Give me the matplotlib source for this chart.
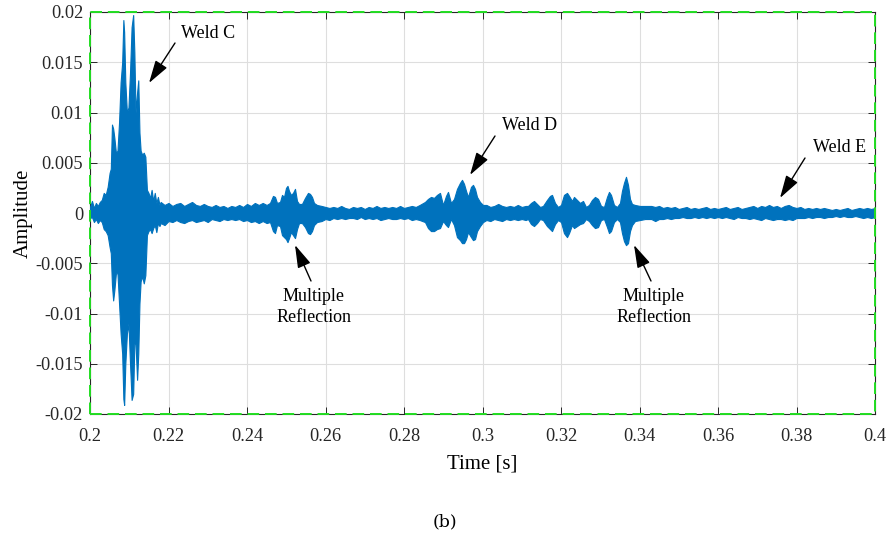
import numpy as np
import matplotlib
matplotlib.use("Agg")
import matplotlib.pyplot as plt
from matplotlib.patches import Rectangle

# ---------------- data ----------------
# time [s] and the upper / lower envelope of the recorded signal (x 1e-3)
time_s = [
    0.2000, 0.2005, 0.2010, 0.2015, 0.2020, 0.2025, 0.2030, 0.2035, 0.2040, 0.2045,
    0.2050, 0.2053, 0.2056, 0.2059, 0.2062, 0.2066, 0.2070, 0.2074, 0.2078, 0.2082,
    0.2085, 0.2087, 0.2090, 0.2094, 0.2098, 0.2102, 0.2106, 0.2110, 0.2113, 0.2116,
    0.2120, 0.2123, 0.2126, 0.2129, 0.2133, 0.2137, 0.2141, 0.2145, 0.2149, 0.2153,
    0.2157, 0.2161, 0.2165, 0.2169, 0.2173, 0.2177,
    0.218, 0.219, 0.220, 0.221, 0.222, 0.223, 0.224, 0.225, 0.226, 0.227,
    0.228, 0.229, 0.230, 0.231, 0.232, 0.233, 0.234, 0.235, 0.236, 0.237,
    0.238, 0.239, 0.240, 0.241, 0.242, 0.243, 0.244, 0.245,
    0.24586, 0.24662, 0.24713, 0.24764, 0.24841, 0.24892, 0.24943, 0.24994, 0.25032, 0.25070,
    0.25121, 0.25172, 0.25223, 0.25274, 0.25325, 0.25401, 0.25478, 0.25554, 0.25605, 0.25656,
    0.25707, 0.25783,
    0.259, 0.260, 0.261, 0.262, 0.263, 0.264, 0.265, 0.266, 0.267, 0.268,
    0.269, 0.270, 0.271, 0.272, 0.273, 0.274, 0.275, 0.276, 0.277, 0.278,
    0.279, 0.280, 0.281, 0.282, 0.283, 0.284,
    0.28535, 0.28611, 0.28688, 0.28764, 0.28840, 0.28917, 0.28994, 0.29070, 0.29121, 0.29197,
    0.29274, 0.29350, 0.29427, 0.29478, 0.29529, 0.29580, 0.29631, 0.29707, 0.29758, 0.29809,
    0.29860, 0.29936, 0.30013,
    0.301, 0.302, 0.303, 0.304, 0.305, 0.306, 0.307, 0.308, 0.309, 0.310, 0.311,
    0.31159, 0.31236, 0.31312, 0.31389, 0.31465, 0.31541, 0.31643, 0.31720, 0.31771, 0.31847,
    0.31924, 0.32000, 0.32076, 0.32153, 0.32204, 0.32280, 0.32331, 0.32408, 0.32484, 0.32561,
    0.32637, 0.32713, 0.32790, 0.32866, 0.32943, 0.33019, 0.33096, 0.33172, 0.33223, 0.33274,
    0.33350, 0.33427, 0.33503, 0.33554, 0.33605, 0.33656, 0.33707, 0.33758, 0.33809, 0.33885,
    0.34013, 0.34140,
    0.343, 0.344, 0.345, 0.346, 0.347, 0.348, 0.349, 0.350, 0.351, 0.352,
    0.353, 0.354, 0.355, 0.356, 0.357, 0.358, 0.359, 0.360, 0.361, 0.362,
    0.363, 0.364, 0.365, 0.366, 0.367, 0.368, 0.369, 0.370, 0.371, 0.372,
    0.373, 0.374, 0.375, 0.376, 0.377, 0.378, 0.379, 0.380, 0.381, 0.382,
    0.383, 0.384, 0.385, 0.386, 0.387, 0.388, 0.389, 0.390, 0.391, 0.392,
    0.393, 0.394, 0.395, 0.396, 0.397, 0.398, 0.399, 0.400,
]
env_upper = [
    0.6, 1.2, 0.5, 1.0, 0.7, 1.1, 1.3, 2.0, 1.8, 2.6,
    4.0, 4.4, 8.8, 8.4, 7.5, 6.0, 6.2, 9.0, 13.0, 15.0,
    19.2, 18.0, 13.0, 10.0, 10.5, 14.0, 18.5, 19.7, 16.0, 10.0,
    12.0, 13.2, 8.0, 6.2, 5.8, 6.0, 5.6, 2.3, 2.0, 1.5,
    2.3, 1.2, 2.0, 1.0, 1.6, 0.8,
    1.1, 0.8, 1.0, 0.7, 0.9, 1.0, 0.7, 0.9, 1.1, 0.8,
    0.7, 0.9, 0.7, 0.6, 0.8, 0.6, 0.7, 0.5, 0.7, 0.6,
    0.8, 0.6, 0.9, 0.7, 1.0, 0.8, 1.0, 0.8,
    1.0, 1.7, 1.6, 1.0, 1.1, 1.8, 1.6, 2.5, 2.7, 2.2,
    1.8, 2.0, 2.4, 1.2, 0.9, 0.9, 1.5, 2.0, 1.9, 1.6,
    1.0, 0.8,
    0.7, 0.6, 0.5, 0.6, 0.5, 0.7, 0.5, 0.4, 0.6, 0.5,
    0.6, 0.4, 0.6, 0.5, 0.7, 0.5, 0.6, 0.5, 0.6, 0.5,
    0.7, 0.5, 0.6, 0.7, 0.6, 0.8,
    1.1, 1.4, 1.6, 1.5, 1.8, 2.0, 0.8, 1.7, 2.1, 1.0,
    1.4, 2.4, 3.0, 3.3, 2.9, 2.2, 1.6, 2.6, 2.8, 2.4,
    1.6, 1.1, 0.8,
    0.8, 0.6, 0.7, 0.9, 0.7, 0.6, 0.7, 0.6, 0.8, 0.6, 0.7,
    0.7, 1.0, 1.2, 0.9, 0.6, 0.7, 1.3, 1.7, 1.8, 1.0,
    0.6, 0.8, 1.8, 2.0, 1.7, 1.2, 1.6, 1.3, 1.0, 1.2,
    0.6, 0.8, 1.3, 1.6, 1.4, 0.7, 0.6, 1.6, 2.1, 1.8,
    0.8, 0.6, 1.0, 2.2, 3.0, 3.6, 2.8, 1.4, 0.9, 0.8,
    0.7, 0.7,
    0.7, 0.6, 0.7, 0.5, 0.6, 0.5, 0.6, 0.4, 0.5, 0.6,
    0.4, 0.5, 0.4, 0.5, 0.6, 0.4, 0.5, 0.4, 0.5, 0.6,
    0.4, 0.5, 0.6, 0.4, 0.5, 0.6, 0.7, 0.5, 0.7, 0.6,
    0.8, 0.6, 0.7, 0.5, 0.7, 0.8, 0.6, 0.5, 0.6, 0.4,
    0.5, 0.4, 0.5, 0.4, 0.5, 0.4, 0.3, 0.4, 0.3, 0.4,
    0.5, 0.3, 0.4, 0.5, 0.4, 0.5, 0.4, 0.5,
]
env_lower = [
    -0.5, -0.4, -0.9, -0.6, -1.0, -0.7, -0.9, -1.6, -1.8, -2.2,
    -3.4, -4.0, -7.2, -8.7, -7.7, -6.0, -6.0, -9.0, -12.0, -14.0,
    -18.5, -19.1, -15.0, -12.0, -11.0, -15.0, -18.6, -18.0, -13.0, -13.0,
    -16.6, -14.0, -9.0, -6.8, -6.3, -7.0, -6.2, -2.2, -1.8, -1.6,
    -2.0, -1.5, -1.2, -1.9, -1.0, -1.3,
    -1.0, -1.2, -0.8, -0.9, -0.7, -0.9, -1.0, -0.8, -0.7, -0.9,
    -0.8, -0.7, -0.9, -0.6, -0.7, -0.8, -0.6, -0.7, -0.6, -0.7,
    -0.6, -0.8, -0.7, -0.9, -0.8, -1.0, -0.8, -1.0,
    -0.9, -1.8, -2.0, -1.2, -1.3, -2.2, -2.4, -2.6, -2.9, -2.5,
    -1.9, -2.2, -2.5, -1.6, -1.0, -1.0, -1.4, -2.0, -2.1, -1.8,
    -1.2, -0.9,
    -0.8, -0.6, -0.7, -0.5, -0.6, -0.5, -0.6, -0.5, -0.5, -0.6,
    -0.4, -0.6, -0.5, -0.6, -0.5, -0.7, -0.6, -0.5, -0.6, -0.6,
    -0.5, -0.6, -0.5, -0.7, -0.6, -0.7,
    -0.9, -1.5, -1.8, -1.8, -1.6, -1.5, -0.8, -1.2, -1.4, -0.6,
    -1.2, -2.4, -2.7, -3.0, -3.0, -2.6, -1.9, -2.4, -2.7, -2.6,
    -1.8, -1.3, -0.9,
    -0.7, -0.8, -0.6, -0.7, -0.8, -0.6, -0.7, -0.6, -0.7, -0.6, -0.7,
    -0.6, -1.1, -1.3, -1.0, -0.6, -0.7, -1.3, -1.6, -1.8, -1.1,
    -0.7, -0.9, -2.0, -2.4, -2.0, -1.2, -1.5, -1.3, -1.1, -1.0,
    -0.6, -0.8, -1.2, -1.5, -1.4, -0.7, -0.6, -1.4, -2.0, -1.8,
    -0.9, -0.6, -0.9, -2.0, -2.8, -3.2, -3.0, -1.8, -1.2, -0.8,
    -0.7, -0.6,
    -0.6, -0.8, -0.6, -0.6, -0.5, -0.6, -0.5, -0.5, -0.4, -0.5,
    -0.5, -0.4, -0.5, -0.4, -0.5, -0.4, -0.5, -0.4, -0.5, -0.4,
    -0.5, -0.6, -0.4, -0.5, -0.5, -0.6, -0.5, -0.6, -0.7, -0.5,
    -0.6, -0.7, -0.6, -0.6, -0.7, -0.6, -0.7, -0.5, -0.5, -0.5,
    -0.4, -0.5, -0.4, -0.4, -0.5, -0.4, -0.4, -0.3, -0.4, -0.3,
    -0.4, -0.4, -0.3, -0.4, -0.5, -0.4, -0.5, -0.4,
]
env_scale = 1e-3

x_ticks = [0.2, 0.22, 0.24, 0.26, 0.28, 0.3, 0.32, 0.34, 0.36, 0.38, 0.4]
x_tick_labels = ["0.2", "0.22", "0.24", "0.26", "0.28", "0.3", "0.32", "0.34",
                 "0.36", "0.38", "0.4"]
y_ticks = [-0.02, -0.015, -0.01, -0.005, 0, 0.005, 0.01, 0.015, 0.02]
y_tick_labels = ["-0.02", "-0.015", "-0.01", "-0.005", "0", "0.005", "0.01",
                 "0.015", "0.02"]

# annotation labels
ann_labels = ["Weld C", "Weld D", "Weld E", "Multiple\nReflection", "Multiple\nReflection"]
# ---------------------------------------------------------------

plt.rcParams["font.family"] = ["Liberation Serif", "DejaVu Serif"]

SIG = "#0072BD"
TICK_FS = 13.2
LABEL_FS = 15
ANN_FS = 13

fig = plt.figure(figsize=(8.91, 5.39), dpi=100)
ax = fig.add_axes([90 / 891, 1 - 414 / 539, 785 / 891, 402 / 539])

t = np.array(time_s)
hi = np.array(env_upper) * env_scale
lo = np.array(env_lower) * env_scale
ax.fill_between(t, lo, hi, facecolor=SIG, edgecolor=SIG, linewidth=0.8, zorder=3)

ax.set_xlim(0.2, 0.4)
ax.set_ylim(-0.02, 0.02)
ax.set_xticks(x_ticks)
ax.set_xticklabels(x_tick_labels)
ax.set_yticks(y_ticks)
ax.set_yticklabels(y_tick_labels)
ax.tick_params(direction="in", length=5, width=0.7, colors="#262626",
               labelsize=TICK_FS, top=True, right=True)
ax.tick_params(axis="x", pad=10)
ax.tick_params(axis="y", pad=5)
ax.grid(True, color="#dedede", linewidth=0.8, zorder=0)
ax.set_axisbelow(True)
for s in ax.spines.values():
    s.set_color("#262626")
    s.set_linewidth(0.8)

ax.add_patch(Rectangle((0, 0), 1, 1, transform=ax.transAxes, fill=False,
                       edgecolor="#22dd22", linewidth=1.4,
                       linestyle=(0, (6, 3)), zorder=5, clip_on=False))

ax.set_xlabel("Time [s]", fontsize=LABEL_FS, labelpad=7)
ax.set_ylabel("Amplitude", fontsize=LABEL_FS, labelpad=2)

def px(x, y):
    return 0.2 + (x - 90) / 3925.0, (213 - y) / 10050.0

arrow_kw = dict(arrowstyle="-|>,head_length=1.4,head_width=0.42", color="black",
                lw=1.0, shrinkA=0, shrinkB=0)
ann_geom = [
    ((208, 33), (175, 43), (149, 83)),
    ((530, 126), (495, 136), (470, 175)),
    ((840, 148), (805, 158), (780, 198)),
    ((314, 307), (311, 281), (295, 245)),
    ((654, 307), (651, 281), (634, 245)),
]
for lab, (txt, tail, head) in zip(ann_labels, ann_geom):
    ax.annotate("", xy=px(*head), xytext=px(*tail), arrowprops=arrow_kw, zorder=6)
    ax.text(*px(*txt), lab, ha="center", va="center", fontsize=ANN_FS,
            linespacing=1.35, zorder=6)

fig.text(445 / 891, 1 - 522 / 539, "(b)", ha="center", va="center",
         fontsize=12.5, family=["DejaVu Serif"])

fig.savefig("out.png", dpi=100)
